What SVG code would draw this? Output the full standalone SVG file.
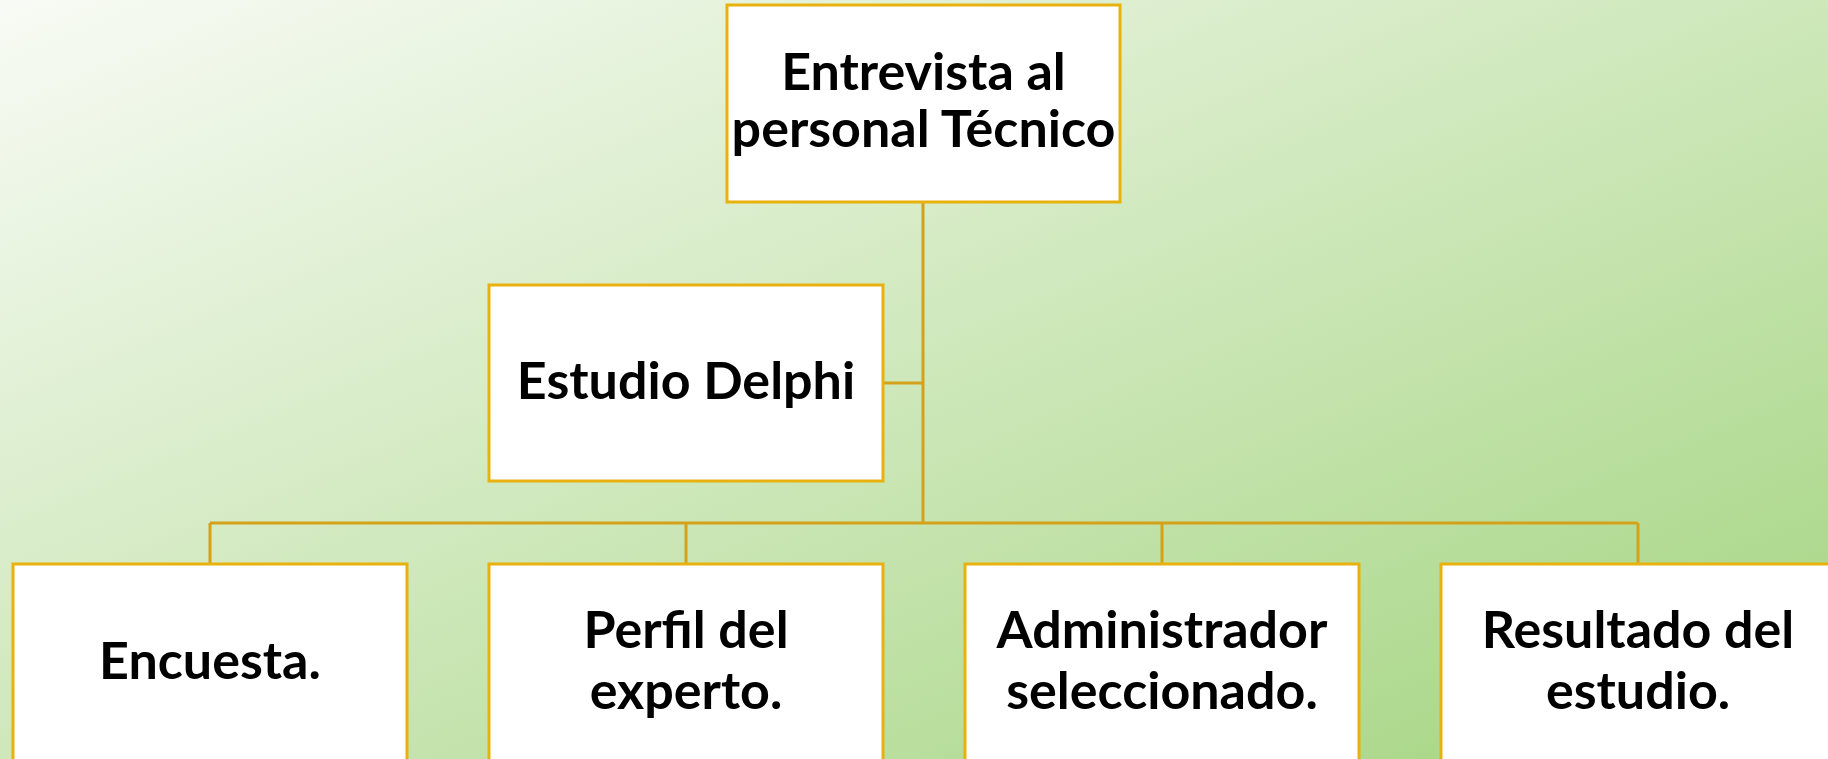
<svg xmlns="http://www.w3.org/2000/svg" width="1828" height="759" viewBox="0 0 1828 759">
<style>
.box{fill:#ffffff;stroke:#E8B10E;stroke-width:3}
.conn{fill:none;stroke:#D3A21A;stroke-width:3}
.t{font-family:"Lato","Open Sans","Liberation Sans",sans-serif;font-weight:bold;font-size:52px;fill:#000;text-anchor:middle}
</style>
<defs>
<linearGradient id="bg" x1="0" y1="0" x2="1" y2="1">
<stop offset="0" stop-color="#f8fbf5"/>
<stop offset="1" stop-color="#a3d47f"/>
</linearGradient>
</defs>
<rect x="0" y="0" width="1828" height="759" fill="url(#bg)"/>
<g id="connectors">
<path class="conn" d="M923 202 V523 M883 383 H923 M210 523 H1638 M210 523 V564 M686 523 V564 M1162 523 V564 M1638 523 V564"/>
</g>
<g id="n-entrevista">
<rect class="box" x="727" y="5" width="393" height="197"/>
<text class="t" x="923.5" y="90">Entrevista al</text>
<text class="t" x="923.5" y="147">personal Técnico</text>
</g>
<g id="n-delphi">
<rect class="box" x="489" y="285" width="394" height="196"/>
<text class="t" x="686" y="399">Estudio Delphi</text>
</g>
<g id="n-encuesta">
<rect class="box" x="13" y="564" width="394" height="220"/>
<text class="t" x="210" y="679">Encuesta.</text>
</g>
<g id="n-perfil">
<rect class="box" x="489" y="564" width="394" height="220"/>
<text class="t" x="686" y="648">Perfil del</text>
<text class="t" x="686" y="709">experto.</text>
</g>
<g id="n-admin">
<rect class="box" x="965" y="564" width="394" height="220"/>
<text class="t" x="1162" y="648">Administrador</text>
<text class="t" x="1162" y="709">seleccionado.</text>
</g>
<g id="n-resultado">
<rect class="box" x="1441" y="564" width="394" height="220"/>
<text class="t" x="1638" y="648">Resultado del</text>
<text class="t" x="1638" y="709">estudio.</text>
</g>
</svg>
